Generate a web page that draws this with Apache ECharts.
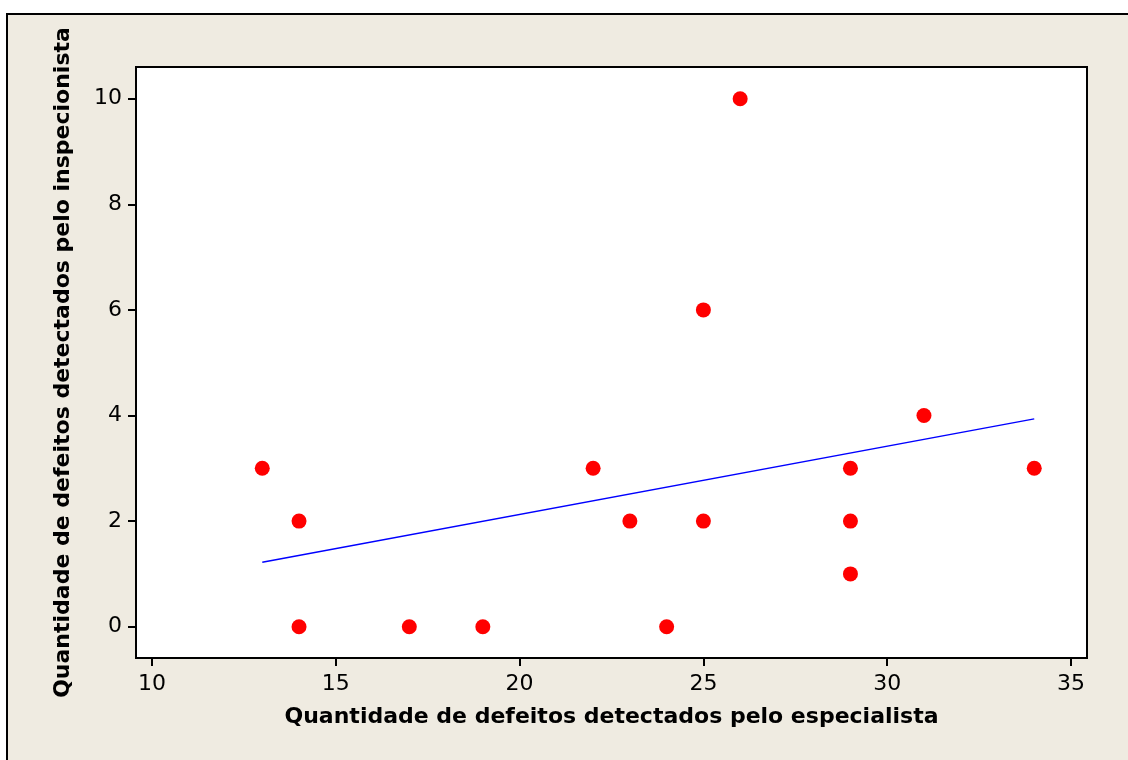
<!DOCTYPE html>
<html>
<head>
<meta charset="utf-8">
<script src="https://cdn.jsdelivr.net/npm/echarts@6/dist/echarts.min.js"></script>
<style>
html,body{margin:0;padding:0;background:#ffffff;}
#c{width:1128px;height:760px;}
</style>
</head>
<body>
<div id="c"></div>
<script>
// Data
var especialista = [13, 14, 14, 17, 19, 22, 23, 24, 25, 25, 26, 29, 29, 29, 31, 34];
var inspecionista = [3, 2, 0, 0, 0, 3, 2, 0, 6, 2, 10, 3, 2, 1, 4, 3];
var xTicks = [10, 15, 20, 25, 30, 35];
var yTicks = [0, 2, 4, 6, 8, 10];
var xTitle = 'Quantidade de defeitos detectados pelo especialista';
var yTitle = 'Quantidade de defeitos detectados pelo inspecionista';

// Least-squares fitted line
var n = especialista.length, mx = 0, my = 0;
for (var i = 0; i < n; i++) { mx += especialista[i]; my += inspecionista[i]; }
mx /= n; my /= n;
var sxy = 0, sxx = 0;
for (var i = 0; i < n; i++) {
  sxy += (especialista[i] - mx) * (inspecionista[i] - my);
  sxx += (especialista[i] - mx) * (especialista[i] - mx);
}
var slope = sxy / sxx, icpt = my - slope * mx;
var xmin = Math.min.apply(null, especialista), xmax = Math.max.apply(null, especialista);
var fit = [[xmin, icpt + slope * xmin], [xmax, icpt + slope * xmax]];

var pts = especialista.map(function (x, i) { return [x, inspecionista[i]]; });

var chart = echarts.init(document.getElementById('c'), null, {renderer: 'canvas'});
chart.setOption({
  animation: false,
  backgroundColor: '#ffffff',
  graphic: [{
    type: 'rect', z: -10, silent: true,
    shape: {x: 7, y: 14, width: 1130, height: 760},
    style: {fill: '#EFEBE1', stroke: '#000000', lineWidth: 2}
  }],
  grid: {
    left: 136, top: 67, right: 41, bottom: 102,
    show: true, backgroundColor: '#ffffff', borderColor: '#000000', borderWidth: 2, z: 1
  },
  xAxis: {
    type: 'value', min: 9.565, max: 35.435,
    customValues: xTicks,
    name: xTitle, nameLocation: 'middle', nameGap: 48,
    nameTextStyle: {fontFamily: 'DejaVu Sans', fontWeight: 'bold', fontSize: 22, color: '#000'},
    axisLine: {show: true, onZero: false, lineStyle: {color: '#000', width: 2}},
    axisTick: {show: true, length: 8, inside: false, lineStyle: {color: '#000', width: 2}, customValues: xTicks},
    axisLabel: {customValues: xTicks, fontFamily: 'DejaVu Sans', fontSize: 22, color: '#000', margin: 15},
    splitLine: {show: false}
  },
  yAxis: {
    type: 'value', min: -0.593, max: 10.6,
    customValues: yTicks,
    name: yTitle, nameLocation: 'middle', nameGap: 62, nameRotate: 90,
    nameTextStyle: {fontFamily: 'DejaVu Sans', fontWeight: 'bold', fontSize: 22, color: '#000'},
    axisLine: {show: true, onZero: false, lineStyle: {color: '#000', width: 2}},
    axisTick: {show: true, length: 8, inside: false, lineStyle: {color: '#000', width: 2}, customValues: yTicks},
    axisLabel: {customValues: yTicks, fontFamily: 'DejaVu Sans', fontSize: 22, color: '#000', margin: 14},
    splitLine: {show: false}
  },
  series: [{
    type: 'scatter', data: pts, symbol: 'circle', symbolSize: 15,
    itemStyle: {color: '#FF0000', opacity: 1}, z: 3
  }, {
    type: 'line', data: fit, symbol: 'none', showSymbol: false,
    lineStyle: {color: '#0000FF', width: 1.5}, z: 2
  }]
});
</script>
</body>
</html>
